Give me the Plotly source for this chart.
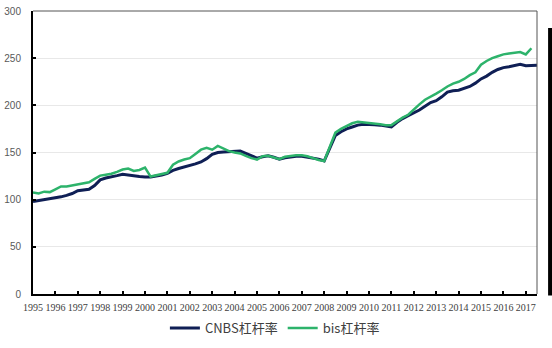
import plotly.graph_objects as go

# Quarterly data, 1995Q1 onward
start_year = 1995
cnbs = [98, 99, 100, 100.5,
        102, 103, 104.5, 106.5,
        109.5, 110, 111, 115,
        121, 123, 124, 125.5,
        127, 126, 125, 124.5,
        124, 124, 125, 126,
        128, 131, 133, 134.5,
        136, 138, 140, 143.5,
        148, 150, 150.5, 151,
        151, 151.5, 149, 146.5,
        144, 145.5, 146.5, 145,
        143, 144.5, 145.5, 146,
        146, 145, 144, 143,
        141, 155, 168, 172,
        175, 177, 179, 180,
        180, 179.5, 179, 178,
        177, 182, 186, 189,
        192, 195, 199, 203,
        205, 209, 214, 215.5,
        216, 218, 220, 223.5,
        228, 231, 235, 238,
        240, 241, 242.5, 243.5,
        242, 242.5, 242.5]
bis = [107.5, 106.5, 108.5, 108,
       111, 114, 114, 115,
       116.5, 117.5, 118.5, 122,
       125.5, 126.5, 127.5, 129.5,
       132, 133, 130.5, 131.5,
       134, 124.5, 126, 127,
       128.5, 137, 140.5, 142.5,
       144, 148.5, 153, 155,
       153, 157, 154, 151.5,
       150, 149, 146.5, 144,
       142.5, 146, 146.5, 145,
       143, 145.5, 146.5, 147,
       147, 146, 144, 142,
       141, 157, 171, 175,
       178, 181, 182.5, 182,
       181.5, 181, 180, 179,
       179, 183, 187, 190,
       196, 201, 206, 209,
       212.5, 216, 220, 223,
       225, 228, 232, 235,
       243, 247, 250, 252,
       254, 255, 256, 256.5,
       254, 260.5]
years = list(range(1995, 2018))
y_ticks = [0, 50, 100, 150, 200, 250, 300]

t_cnbs = [start_year + i / 4 for i in range(len(cnbs))]
t_bis = [start_year + i / 4 for i in range(len(bis))]

fig = go.Figure()
fig.add_trace(go.Scatter(x=t_cnbs, y=cnbs, mode="lines", name="CNBS杠杆率",
                         line=dict(color="#0F1F55", width=3)))
fig.add_trace(go.Scatter(x=t_bis, y=bis, mode="lines", name="bis杠杆率",
                         line=dict(color="#2DB36B", width=2.5)))

fig.update_layout(
    width=552, height=348,
    margin=dict(l=33, r=15, t=11, b=54, autoexpand=False),
    paper_bgcolor="white", plot_bgcolor="white",
    showlegend=True,
    legend=dict(orientation="h", x=0.498, xanchor="center", xref="container",
                y=0.057, yanchor="middle", yref="container",
                font=dict(family="Noto Sans CJK SC", size=13, color="#404040"),
                itemwidth=30, tracegroupgap=0),
    xaxis=dict(range=[1995, 2017.5], tickmode="array", tickvals=years,
               ticktext=[str(y) for y in years], automargin=False,
               showgrid=False, zeroline=False,
               showline=True, linecolor="black", linewidth=2,
               ticks="inside", ticklen=3, tickcolor="black", tickwidth=1.5,
               tickfont=dict(family="Liberation Serif", size=10, color="#404040"),
               ticklabelstandoff=3),
    yaxis=dict(range=[0, 300], tickmode="array", tickvals=y_ticks,
               showgrid=True, gridcolor="#E8E8E8", gridwidth=1,
               zeroline=False, automargin=False,
               showline=True, linecolor="black", linewidth=2,
               ticks="inside", ticklen=3, tickcolor="black", tickwidth=1.5,
               tickfont=dict(family="Liberation Sans", size=10, color="#595959"),
               ticklabelstandoff=8),
    shapes=[
        dict(type="line", xref="paper", yref="paper", x0=0, x1=1, y0=1, y1=1,
             line=dict(color="#555555", width=1)),
        dict(type="line", xref="paper", yref="paper", x0=1, x1=1, y0=0, y1=1,
             line=dict(color="#555555", width=1)),
        dict(type="rect", xref="paper", yref="paper", x0=1.022, x1=1.04,
             y0=-0.005, y1=0.94, fillcolor="black", line=dict(width=0)),
    ],
)

fig.write_html("out.html")
